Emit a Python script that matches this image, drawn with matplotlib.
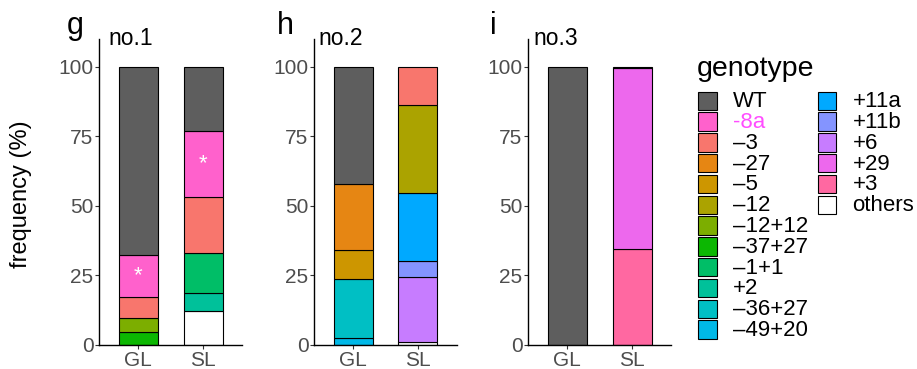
import matplotlib.pyplot as plt
from matplotlib.patches import Rectangle

plt.rcParams['font.family'] = ['Liberation Sans', 'DejaVu Sans']

# genotype levels, top of the stack first
genotypes = ['WT', '-8a', '–3', '–27', '–5', '–12', '–12+12', '–37+27', '–1+1',
             '+2', '–36+27', '–49+20', '+11a', '+11b', '+6', '+29', '+3', 'others']
colors = ['#5e5e5e', '#FF61CC', '#F8766D', '#E68613', '#CD9600', '#ABA300', '#7CAE00',
          '#0CB702', '#00BE67', '#00C19A', '#00BFC4', '#00B8E7', '#00A9FF', '#8494FF',
          '#C77CFF', '#ED68ED', '#FF68A1', '#ffffff']

samples = ['GL', 'SL']

# frequencies (%) per line and tissue
no1_GL = {'WT': 67.8, '-8a': 14.8, '–3': 7.6, '–12+12': 5.0, '–37+27': 4.8}
no1_SL = {'WT': 23.1, '-8a': 23.8, '–3': 20.2, '–1+1': 14.3, '+2': 6.4, 'others': 12.2}
no2_GL = {'WT': 42.3, '–27': 23.6, '–5': 10.5, '–36+27': 21.2, '–49+20': 2.4}
no2_SL = {'–3': 13.9, '–12': 31.4, '+11a': 24.4, '+11b': 5.7, '+6': 23.4, 'others': 1.2}
no3_GL = {'WT': 100.0}
no3_SL = {'WT': 0.3, '+29': 65.2, '+3': 34.5}

panels = [('g', 'no.1', [no1_GL, no1_SL]),
          ('h', 'no.2', [no2_GL, no2_SL]),
          ('i', 'no.3', [no3_GL, no3_SL])]

W, H = 917, 369
fig = plt.figure(figsize=(W / 100, H / 100), dpi=100)

ax_left = [99, 314, 528]
letter_x = [67, 277, 490]
title_x = [108, 318, 533]
ax_w, ax_top, ax_bot = 143, 39, 345

for k, (letter, title, bars) in enumerate(panels):
    ax = fig.add_axes([ax_left[k] / W, 1 - ax_bot / H, ax_w / W, (ax_bot - ax_top) / H])
    for xi, d in enumerate(bars):
        bottom = 0.0
        for g, c in zip(genotypes[::-1], colors[::-1]):
            v = d.get(g, 0)
            if v <= 0:
                continue
            ax.bar(xi + 1, v, bottom=bottom, width=0.6, color=c,
                   edgecolor='black', linewidth=0.8, zorder=2)
            if g == '-8a' and k == 0:
                ax.text(xi + 1, bottom + v / 2, '*', color='white', fontsize=16,
                        ha='center', va='center', zorder=3)
            bottom += v
    ax.set_xlim(0.4, 2.6)
    ax.set_ylim(0, 110)
    ax.set_xticks([1, 2])
    ax.set_xticklabels(samples)
    ax.set_yticks([0, 25, 50, 75, 100])
    for s in ['top', 'right']:
        ax.spines[s].set_visible(False)
    for s in ['left', 'bottom']:
        ax.spines[s].set_linewidth(1.0)
    ax.tick_params(labelsize=15, labelcolor='#4d4d4d', color='#333333',
                   length=3, width=0.8, pad=1)
    fig.text(letter_x[k] / W, 1 - 34 / H, letter, fontsize=22, ha='left',
             va='baseline')
    fig.text(title_x[k] / W, 1 - 45 / H, title, fontsize=16.5, ha='left',
             va='baseline')

fig.text(21 / W, 1 - 194 / H, 'frequency (%)', rotation=90, fontsize=17,
         ha='center', va='center')

# legend in pixel coordinates, two columns (12 + 6)
leg = fig.add_axes([0, 0, 1, 1])
leg.set_xlim(0, W)
leg.set_ylim(H, 0)
leg.axis('off')
leg.text(697, 76, 'genotype', fontsize=20.5, ha='left', va='baseline')
key, step, top0 = 18.5, 20.8, 91.5
for i, (g, c) in enumerate(zip(genotypes, colors)):
    col, row = (0, i) if i < 12 else (1, i - 12)
    kx = 698 if col == 0 else 817.5
    ky = top0 + row * step
    leg.add_patch(Rectangle((kx, ky), key, key, facecolor=c, edgecolor='black',
                            linewidth=0.8))
    leg.text(kx + 35, ky + key / 2 + 1, g, fontsize=16, ha='left', va='center',
             color='#ff4dff' if g == '-8a' else 'black')

fig.savefig('out.png', dpi=100)
